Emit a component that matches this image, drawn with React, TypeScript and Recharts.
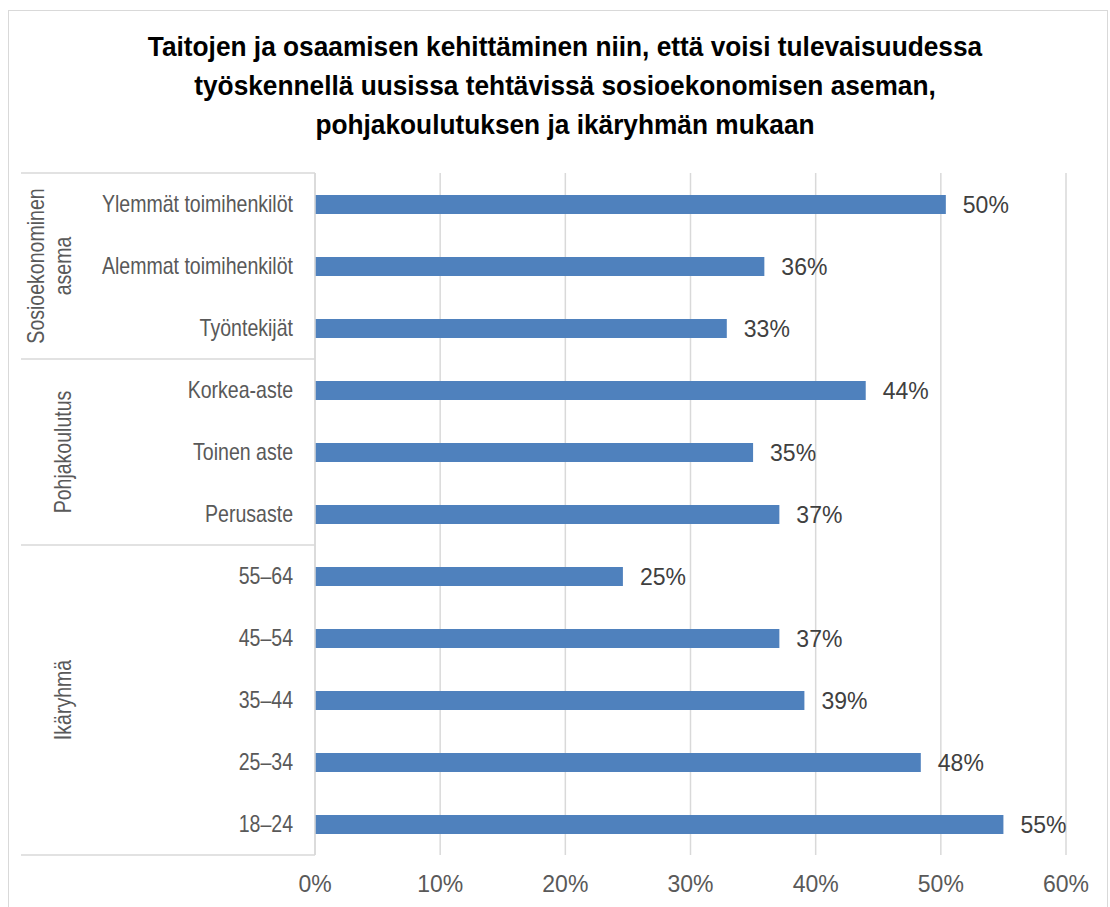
import React from 'react';
import { BarChart, Bar, XAxis, YAxis, CartesianGrid, LabelList } from 'recharts';

// ─── Data ─────────────────────────────────────────────────────────────────────

const categories = [
  'Ylemmät toimihenkilöt',
  'Alemmat toimihenkilöt',
  'Työntekijät',
  'Korkea-aste',
  'Toinen aste',
  'Perusaste',
  '55–64',
  '45–54',
  '35–44',
  '25–34',
  '18–24',
];

const shares = [50.4, 35.9, 32.9, 44.0, 35.0, 37.1, 24.6, 37.1, 39.1, 48.4, 55.0];

const groupNames = [['Sosioekonominen', 'asema'], ['Pohjakoulutus'], ['Ikäryhmä']];
const groupSizes = [3, 3, 5];

const xTicks = [0, 10, 20, 30, 40, 50, 60];

const titleLines = [
  'Taitojen ja osaamisen kehittäminen niin, että voisi tulevaisuudessa',
  'työskennellä uusissa tehtävissä sosioekonomisen aseman,',
  'pohjakoulutuksen ja ikäryhmän mukaan',
];

// ─── Layout ───────────────────────────────────────────────────────────────────

const W = 1110;
const H = 907;
const PLOT_TOP = 173;
const PLOT_BOTTOM = 855;
const AXIS_X = 315;
const STEP = (PLOT_BOTTOM - PLOT_TOP) / categories.length;
const NARROW = 0.85;
const FONT = '"Liberation Sans", Arial, sans-serif';
const GRID = '#d9d9d9';

const rows = categories.map((name, i) => ({ name, value: shares[i] }));

// index of the first row of each group
const groupStarts = groupSizes.map((_, g) => groupSizes.slice(0, g).reduce((s, n) => s + n, 0));

// ─── Ticks ────────────────────────────────────────────────────────────────────

function CategoryTick(props: any) {
  const { y, payload, index } = props;
  const g = groupStarts.indexOf(index);
  const parts: React.ReactNode[] = [];

  parts.push(
    <text
      key="lbl"
      transform={`translate(${AXIS_X - 22},${y + 8}) scale(${NARROW},1)`}
      textAnchor="end"
      fontSize={23}
      fill="#595959"
    >
      {payload.value}
    </text>,
  );

  if (g >= 0) {
    const top = y - STEP / 2;
    parts.push(<line key="sep" x1={21} x2={AXIS_X} y1={top} y2={top} stroke={GRID} strokeWidth={1.5} />);
    const cy = top + (groupSizes[g] * STEP) / 2;
    const lines = groupNames[g];
    lines.forEach((ln, k) => {
      const bx = 71 - (lines.length - 1 - k) * 27;
      parts.push(
        <text
          key={`g${k}`}
          transform={`translate(${bx},${cy}) rotate(-90) scale(${NARROW},1)`}
          textAnchor="middle"
          fontSize={23}
          fill="#595959"
        >
          {ln}
        </text>,
      );
    });
  }

  if (index === categories.length - 1) {
    const bottom = y + STEP / 2;
    parts.push(<line key="end" x1={21} x2={AXIS_X} y1={bottom} y2={bottom} stroke={GRID} strokeWidth={1.5} />);
  }

  return <g>{parts}</g>;
}

function PctTick(props: any) {
  const { x, payload } = props;
  return (
    <text x={x} y={PLOT_BOTTOM + 37} textAnchor="middle" fontSize={23} fill="#595959">
      {`${payload.value}%`}
    </text>
  );
}

function ValueLabel(props: any) {
  const { x, y, width, height, value } = props;
  return (
    <text x={x + width + 17} y={y + height / 2 + 8} fontSize={23} fill="#404040">
      {`${Math.round(value)}%`}
    </text>
  );
}

// ─── Component ────────────────────────────────────────────────────────────────

export default function App() {
  return (
    <div
      style={{
        position: 'absolute',
        left: 0,
        top: 0,
        width: W,
        height: H,
        overflow: 'hidden',
        background: '#fff',
        fontFamily: FONT,
      }}
    >
      {/* chart frame */}
      <div
        style={{
          position: 'absolute',
          left: 8,
          top: 10,
          width: 1100,
          height: 910,
          border: `1.5px solid ${GRID}`,
          boxSizing: 'border-box',
        }}
      />

      {/* title */}
      <div
        style={{
          position: 'absolute',
          left: 0,
          top: 27,
          width: 1130,
          textAlign: 'center',
          fontSize: 27.5,
          lineHeight: '39px',
          fontWeight: 'bold',
          color: '#000',
          transform: 'scaleX(0.955)',
          transformOrigin: 'center',
          whiteSpace: 'nowrap',
        }}
      >
        {titleLines.map((t) => (
          <div key={t}>{t}</div>
        ))}
      </div>

      <div style={{ position: 'absolute', left: 0, top: 0 }}>
        <BarChart
          width={W}
          height={H}
          data={rows}
          layout="vertical"
          margin={{ top: PLOT_TOP, right: W - 1066, bottom: 0, left: 0 }}
          barCategoryGap={0}
        >
          <CartesianGrid horizontal={false} stroke={GRID} strokeWidth={1.5} />
          <XAxis
            type="number"
            domain={[0, 60]}
            ticks={xTicks}
            axisLine={false}
            tickLine={false}
            tick={<PctTick />}
            height={H - PLOT_BOTTOM}
          />
          <YAxis
            type="category"
            dataKey="name"
            width={AXIS_X}
            interval={0}
            tickLine={false}
            axisLine={{ stroke: GRID, strokeWidth: 1.5 }}
            tick={<CategoryTick />}
          />
          <Bar dataKey="value" fill="#4f81bd" barSize={19} isAnimationActive={false}>
            <LabelList dataKey="value" content={<ValueLabel />} />
          </Bar>
        </BarChart>
      </div>
    </div>
  );
}
